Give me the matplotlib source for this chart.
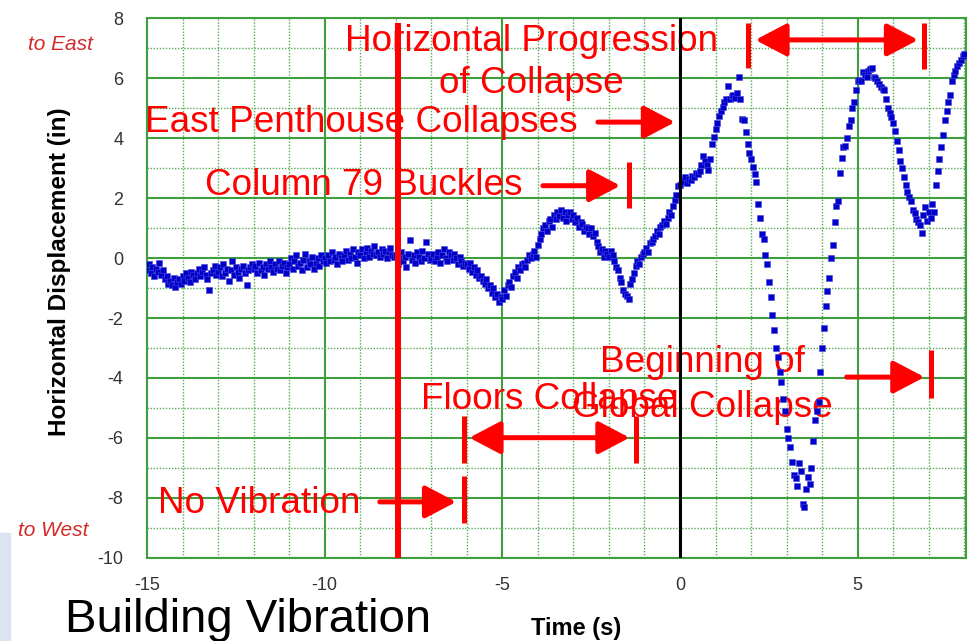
import numpy as np
import matplotlib
matplotlib.use("Agg")
import matplotlib.pyplot as plt
from matplotlib.patches import Rectangle

plt.rcParams['font.family'] = ['Liberation Sans', 'DejaVu Sans']
plt.rcParams['axes.unicode_minus'] = False

# displacement samples (in), one every 0.05 s starting at -15 s
t_start = -15.0
dt = 0.05
disp = [
    -0.40, -0.20, -0.50, -0.30, -0.60, -0.35, -0.45, -0.15, -0.55, -0.40,
    -0.70, -0.60, -0.85, -0.75, -0.90, -0.65, -0.95, -0.80, -0.70, -0.85,
    -0.60, -0.75, -0.50, -0.65, -0.80, -0.45, -0.55, -0.70, -0.50, -0.35,
    -0.60, -0.45, -0.30, -0.55, -0.70, -1.05, -0.50, -0.40, -0.25, -0.55,
    -0.45, -0.30, -0.60, -0.20, -0.50, -0.35, -0.75, -0.40, -0.10, -0.55,
    -0.30, -0.45, -0.65, -0.35, -0.25, -0.50, -0.90, -0.40, -0.30, -0.20,
    -0.35, -0.25, -0.50, -0.15, -0.40, -0.30, -0.55, -0.20, -0.35, -0.10,
    -0.30, -0.45, -0.20, -0.35, -0.10, -0.40, -0.25, -0.15, -0.50, -0.30,
    -0.20, 0.00, -0.35, -0.10, 0.10, -0.25, -0.15, -0.40, -0.05, 0.15,
    -0.30, -0.10, -0.20, 0.05, -0.35, -0.15, 0.00, -0.25, 0.10, -0.10,
    0.00, -0.15, 0.10, -0.10, 0.20, -0.05, 0.05, -0.20, 0.15, 0.00,
    -0.10, 0.10, 0.25, -0.05, 0.15, 0.00, 0.30, 0.05, -0.15, 0.20,
    0.10, 0.30, 0.00, 0.20, 0.35, 0.05, 0.25, 0.15, 0.40, 0.10,
    0.20, 0.05, 0.30, 0.15, 0.25, 0.00, 0.20, 0.35, 0.10, 0.05,
    0.10, -0.20, 0.00, 0.20, -0.10, 0.05, -0.30, 0.15, 0.60, -0.05,
    0.10, -0.15, 0.20, 0.05, -0.10, 0.25, 0.00, 0.55, 0.15, -0.05,
    0.00, 0.15, -0.10, 0.05, 0.20, -0.15, 0.10, 0.30, 0.00, -0.10,
    0.20, 0.10, -0.05, 0.15, 0.00, -0.20, 0.05, -0.10, -0.25, -0.15,
    -0.20, -0.35, -0.15, -0.45, -0.30, -0.55, -0.40, -0.65, -0.60, -0.75,
    -0.85, -0.70, -1.00, -0.90, -1.15, -1.00, -1.30, -1.20, -1.45, -1.30,
    -1.35, -1.05, -1.25, -0.90, -0.80, -0.95, -0.60, -0.45, -0.65, -0.30,
    -0.40, -0.20, -0.15, -0.30, -0.05, 0.10, 0.00, 0.15, 0.25, 0.05,
    0.45, 0.65, 0.80, 1.00, 1.10, 0.90, 1.25, 1.30, 1.05, 1.45,
    1.30, 1.55, 1.40, 1.60, 1.35, 1.55, 1.25, 1.45, 1.55, 1.30,
    1.45, 1.20, 1.35, 1.05, 1.20, 1.15, 0.90, 1.05, 1.00, 0.80,
    1.00, 0.75, 0.85, 0.55, 0.40, 0.20, 0.30, 0.05, 0.25, 0.15,
    0.05, 0.25, 0.10, -0.10, -0.30, -0.40, -0.65, -0.80, -1.05, -1.20,
    -1.25, -1.35, -0.85, -0.70, -0.50, -0.25, -0.10, -0.20, 0.05, 0.15,
    0.20, 0.35, 0.20, 0.50, 0.55, 0.65, 0.75, 0.90, 0.80, 1.05,
    1.10, 1.25, 1.15, 1.35, 1.55, 1.45, 1.75, 1.95, 2.10, 2.40,
    2.45, 2.60, 2.55, 2.70, 2.50, 2.65, 2.60, 2.75, 2.70, 2.85,
    2.80, 2.90, 3.10, 3.40, 3.25, 3.10, 2.95, 3.30, 3.80, 4.05,
    4.30, 4.50, 4.75, 4.90, 5.05, 5.20, 5.30, 5.75, 5.30, 5.40,
    5.45, 5.35, 5.50, 6.05, 5.30, 4.65, 4.60, 4.20, 3.80, 3.50,
    3.30, 3.05, 2.80, 2.55, 1.80, 1.35, 0.80, 0.65, 0.10, -0.20,
    -0.80, -1.30, -1.90, -2.40, -3.00, -3.30, -3.80, -4.15, -4.70, -5.10,
    -5.70, -6.00, -6.30, -6.80, -7.25, -7.35, -7.60, -6.85, -7.10, -8.20,
    -8.30, -7.70, -7.30, -7.55, -7.00, -6.10, -5.40, -5.10, -4.80, -3.80,
    -3.00, -2.35, -1.60, -1.10, -0.65, 0.00, 0.45, 1.20, 1.75, 1.90,
    2.85, 3.35, 3.70, 3.75, 4.00, 4.40, 4.60, 5.00, 5.20, 5.60,
    5.90, 5.95, 5.90, 6.20, 6.10, 6.05, 6.25, 6.30, 6.35, 6.05,
    6.00, 5.90, 5.80, 5.70, 5.65, 5.60, 5.30, 5.00, 4.85, 4.70,
    4.50, 4.25, 3.90, 3.60, 3.25, 3.00, 2.70, 2.45, 2.20, 2.05,
    1.90, 1.60, 1.50, 1.30, 1.20, 1.10, 0.85, 1.45, 1.70, 1.25,
    1.55, 1.35, 1.80, 1.55, 2.45, 2.90, 3.30, 3.70, 4.10, 4.60,
    4.90, 5.20, 5.45, 5.90, 6.10, 6.25, 6.40, 6.50, 6.60, 6.75,
    6.80,
]
times = t_start + dt * np.arange(len(disp))

xticks = [-15, -10, -5, 0, 5]
yticks = [-10, -8, -6, -4, -2, 0, 2, 4, 6, 8]

red = "#ff0000"
green = "#3f9f3f"

fig = plt.figure(figsize=(9.77, 6.41), dpi=100)
ax = fig.add_axes([0.1505, 0.1295, 0.8383, 0.8424])

ax.plot(times, disp, "s", color="#0000c8", markersize=3.7,
        markeredgecolor="#4444dd", markeredgewidth=0.4, zorder=3)

ax.set_xlim(-15, 8.05)
ax.set_ylim(-10, 8)
ax.set_xticks(xticks)
ax.set_yticks(yticks)
ax.set_xticks(np.arange(-15, 9, 1), minor=True)
ax.set_yticks(np.arange(-10, 9, 1), minor=True)
ax.grid(which="major", color=green, lw=1.5, zorder=0)
ax.grid(which="minor", color="#55aa55", lw=1.0, ls=(0, (1, 1.2)), zorder=0)
ax.tick_params(which="both", length=0, labelsize=13, labelcolor="#333333")
ax.tick_params(axis="x", pad=14)
ax.tick_params(axis="y", pad=17)
for s in ax.spines.values():
    s.set_color(green)
    s.set_linewidth(1.5)

# event lines
ax.plot([-7.95, -7.95], [-10, 7.85], color=red, lw=4.3, zorder=4, solid_capstyle="butt")
ax.axvline(0, color="black", lw=2.2, zorder=4)

fs = 26.6
ax.text(-4.18, 6.9, "Horizontal Progression", color=red, fontsize=fs, ha="center", va="baseline", zorder=2)
ax.text(-4.17, 5.5, "of Collapse", color=red, fontsize=fs, ha="center", va="baseline", zorder=2)
ax.text(-15.07, 4.2, "East Penthouse Collapses", color=red, fontsize=fs, ha="left", va="baseline", zorder=2)
ax.text(-13.38, 2.1, "Column 79 Buckles", color=red, fontsize=fs, ha="left", va="baseline", zorder=2)
ax.text(-14.68, -8.5, "No Vibration", color=red, fontsize=fs, ha="left", va="baseline", zorder=2)
ax.text(-7.3, -5.03, "Floors Collapse", color=red, fontsize=fs, ha="left", va="baseline", zorder=2)
ax.text(0.62, -3.8, "Beginning of", color=red, fontsize=fs, ha="center", va="baseline", zorder=2)
ax.text(0.62, -5.3, "Global Collapse", color=red, fontsize=fs, ha="center", va="baseline", zorder=2)

one_way = dict(arrowstyle="-|>,head_length=0.95,head_width=0.5", color=red, lw=3.6,
               shrinkA=0, shrinkB=0, mutation_scale=20)
two_way = dict(one_way, arrowstyle="<|-|>,head_length=0.95,head_width=0.5")

arrows = [
    ((-2.31, 4.53), (-0.14, 4.53), one_way),
    ((-3.86, 2.41), (-1.68, 2.41), one_way),
    ((-8.45, -8.13), (-6.3, -8.13), one_way),
    ((4.69, -3.97), (6.88, -3.97), one_way),
    ((-5.93, -5.99), (-1.42, -5.99), two_way),
    ((2.12, 7.27), (6.7, 7.27), two_way),
]
for start, end, props in arrows:
    ax.annotate("", xy=end, xytext=start, arrowprops=props, zorder=4)

bars = [
    (-1.44, 1.67, 3.2),
    (-6.08, -8.83, -7.27),
    (-6.08, -6.83, -5.27),
    (-1.24, -6.83, -5.27),
    (7.06, -4.67, -3.07),
    (1.92, 6.35, 7.85),
    (6.87, 6.3, 7.85),
]
for bx, y0, y1 in bars:
    ax.plot([bx, bx], [y0, y1], color=red, lw=3.6, zorder=4, solid_capstyle="butt")

fig.text(60 / 977, 1 - 272 / 641, "Horizontal Displacement (in)", rotation=90,
         fontsize=17.5, fontweight="bold", ha="center", va="center")
fig.text(576 / 977, 1 - 635 / 641, "Time (s)", fontsize=17, fontweight="bold",
         ha="center", va="baseline")
fig.text(60 / 977, 1 - 44 / 641, "to East", fontsize=15, style="italic",
         color="#d42a2a", ha="center", va="center")
fig.text(18 / 977, 1 - 530 / 641, "to West", fontsize=15, style="italic",
         color="#d42a2a", ha="left", va="center")
fig.text(65 / 977, 1 - 632 / 641, "Building Vibration", fontsize=34,
         ha="left", va="baseline")
fig.patches.append(Rectangle((0, 0), 10 / 977, 108 / 641, transform=fig.transFigure,
                             color="#dbe5f1", zorder=0))

fig.savefig("out.png", dpi=100)
